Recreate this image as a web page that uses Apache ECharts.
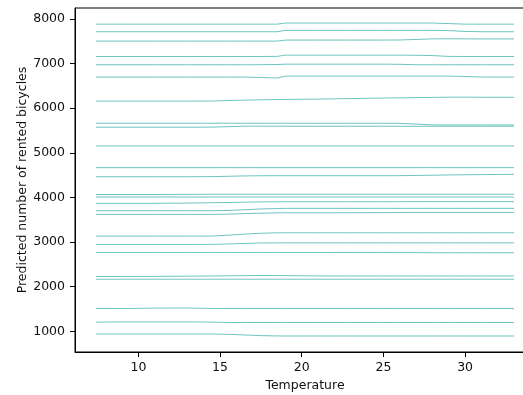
<!DOCTYPE html>
<html>
<head>
<meta charset="utf-8">
<script src="https://cdn.jsdelivr.net/npm/echarts@6/dist/echarts.min.js"></script>
<style>html,body{margin:0;padding:0;background:#fff;}#c{width:523px;height:395px;}</style>
</head>
<body>
<div id="c"></div>
<script>
const temperature = [7.4, 9, 11, 13, 14.5, 15.5, 16.5, 17.5, 18.5, 19, 21, 23, 25, 26, 27, 28, 29, 30, 31, 33];
const xTicks = [10, 15, 20, 25, 30];
const yTicks = [1000, 2000, 3000, 4000, 5000, 6000, 7000, 8000];

const line01 = [7885,7885,7885,7885,7885,7885,7885,7885,7885,7910,7910,7910,7910,7910,7910,7910,7898,7885,7885,7885];
const line02 = [7715,7715,7715,7715,7715,7715,7715,7715,7715,7745,7745,7745,7745,7745,7745,7745,7740,7722,7715,7715];
const line03 = [7505,7505,7505,7505,7505,7505,7505,7505,7505,7528,7528,7528,7528,7530,7542,7555,7557,7555,7553,7553];
const line04 = [7160,7160,7160,7160,7160,7160,7160,7160,7162,7190,7190,7190,7190,7190,7188,7180,7162,7160,7160,7160];
const line05 = [6974,6974,6974,6974,6974,6974,6974,6976,6980,6988,6988,6988,6988,6985,6975,6974,6974,6974,6974,6974];
const line06 = [6698,6698,6698,6698,6698,6698,6698,6690,6676,6720,6720,6720,6720,6720,6720,6720,6720,6712,6700,6698];
const line07 = [6159,6159,6159,6159,6162,6172,6182,6189,6195,6198,6205,6218,6228,6233,6238,6243,6248,6249,6247,6245];
const line08 = [5664,5664,5664,5664,5664,5664,5664,5664,5664,5664,5664,5664,5664,5662,5645,5628,5626,5626,5626,5626];
const line09 = [5575,5575,5575,5575,5577,5587,5597,5597,5596,5596,5596,5596,5596,5596,5596,5596,5596,5596,5596,5596];
const line10 = [5155,5155,5155,5155,5155,5155,5155,5155,5155,5155,5155,5155,5155,5155,5155,5155,5155,5155,5155,5155];
const line11 = [4668,4668,4668,4668,4668,4668,4668,4668,4668,4668,4668,4668,4668,4668,4668,4668,4668,4668,4668,4668];
const line12 = [4465,4465,4465,4465,4467,4475,4483,4487,4488,4488,4488,4488,4488,4489,4494,4499,4504,4509,4513,4519];
const line13 = [4066,4066,4067,4070,4072,4072,4072,4072,4072,4072,4072,4072,4072,4072,4072,4072,4072,4072,4072,4072];
const line14 = [4010,4010,4010,4010,4010,4010,4010,4010,4010,4010,4010,4010,4010,4010,4010,4010,4010,4010,4010,4010];
const line15 = [3868,3868,3868,3874,3882,3888,3894,3900,3904,3904,3904,3904,3904,3905,3906,3906,3906,3906,3906,3906];
const line16 = [3702,3702,3702,3702,3702,3708,3725,3742,3752,3756,3756,3756,3756,3756,3756,3756,3756,3756,3756,3756];
const line17 = [3621,3621,3621,3621,3621,3626,3638,3648,3654,3657,3657,3658,3660,3664,3665,3665,3665,3665,3665,3665];
const line18 = [3134,3134,3134,3134,3135,3155,3178,3198,3208,3208,3208,3208,3208,3208,3208,3208,3208,3208,3208,3208];
const line19 = [2947,2947,2947,2947,2948,2958,2970,2979,2983,2983,2983,2983,2983,2983,2983,2983,2983,2983,2983,2983];
const line20 = [2768,2768,2768,2768,2768,2768,2768,2768,2768,2767,2766,2765,2764,2763,2763,2762,2762,2762,2762,2762];
const line21 = [2229,2229,2231,2236,2240,2244,2248,2251,2250,2248,2241,2240,2240,2240,2240,2240,2240,2240,2240,2240];
const line22 = [2168,2168,2168,2168,2168,2168,2168,2168,2168,2168,2168,2168,2168,2168,2168,2168,2168,2168,2168,2168];
const line23 = [1510,1510,1520,1522,1512,1510,1510,1510,1510,1510,1510,1510,1510,1510,1510,1510,1510,1510,1510,1510];
const line24 = [1205,1210,1210,1210,1206,1198,1196,1196,1196,1196,1196,1196,1196,1196,1196,1196,1196,1196,1196,1196];
const line25 = [940,940,940,940,940,933,918,903,896,895,895,895,895,895,895,895,895,895,895,895];

const iceLines = [line01,line02,line03,line04,line05,line06,line07,line08,line09,line10,line11,line12,line13,
  line14,line15,line16,line17,line18,line19,line20,line21,line22,line23,line24,line25];

const font = 'DejaVu Sans';
const chart = echarts.init(document.getElementById('c'), null, {renderer: 'canvas'});
chart.setOption({
  animation: false,
  backgroundColor: '#fff',
  grid: {left: 75, top: 8, bottom: 43, right: -12, show: true, borderColor: '#000', borderWidth: 1,
         backgroundColor: 'transparent', containLabel: false, outerBoundsMode: 'none'},
  xAxis: {
    type: 'value', min: 6.12, max: 34.28,
    name: 'Temperature', nameLocation: 'middle', nameGap: 27, nameMoveOverlap: false,
    nameTextStyle: {fontFamily: font, fontSize: 12.5, color: '#111'},
    axisLine: {show: true, onZero: false, lineStyle: {color: '#000', width: 1}},
    axisTick: {show: true, length: 5, lineStyle: {color: '#000'}, customValues: xTicks},
    axisLabel: {fontFamily: font, fontSize: 12.5, color: '#111', margin: 9, customValues: xTicks,
                formatter: function (v) { return String(v); }},
    splitLine: {show: false}
  },
  yAxis: {
    type: 'value', min: 536, max: 8247,
    name: 'Predicted number of rented bicycles', nameLocation: 'middle', nameGap: 46, nameMoveOverlap: false,
    nameTextStyle: {fontFamily: font, fontSize: 12.5, color: '#111'},
    axisLine: {show: true, onZero: false, lineStyle: {color: '#000', width: 1}},
    axisTick: {show: true, length: 5, lineStyle: {color: '#000'}, customValues: yTicks},
    axisLabel: {fontFamily: font, fontSize: 12.5, color: '#111', margin: 10, customValues: yTicks,
                formatter: function (v) { return String(v); }},
    splitLine: {show: false}
  },
  series: iceLines.map(function (vals) {
    return {
      type: 'line',
      data: temperature.map(function (t, i) { return [t, vals[i]]; }),
      showSymbol: false,
      symbol: 'none',
      lineStyle: {color: '#1fa59c', width: 1, opacity: 0.65},
      silent: true
    };
  })
});
</script>
</body>
</html>
